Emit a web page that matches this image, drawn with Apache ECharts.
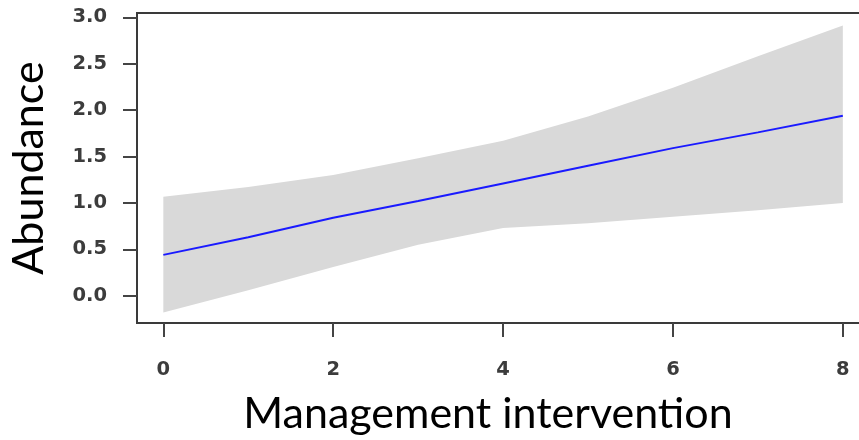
<!DOCTYPE html>
<html>
<head>
<meta charset="utf-8">
<script src="https://cdn.jsdelivr.net/npm/echarts@6/dist/echarts.min.js"></script>
<style>
  html, body { margin: 0; padding: 0; background: #fff; }
  #chart { width: 859px; height: 440px; }
</style>
</head>
<body>
<div id="chart"></div>
<script>
// values, one per unit of management intervention
let xValues = [0, 1, 2, 3, 4, 5, 6, 7, 8]
let fitValues = [0.44, 0.63, 0.84, 1.02, 1.21, 1.40, 1.59, 1.76, 1.94]
let lowerValues = [-0.18, 0.06, 0.31, 0.55, 0.73, 0.78, 0.85, 0.92, 1.00]
let upperValues = [1.065, 1.17, 1.30, 1.48, 1.67, 1.93, 2.24, 2.58, 2.91]
let yTicks = [0, 0.5, 1, 1.5, 2, 2.5, 3]
let xTicks = [0, 2, 4, 6, 8]

let chart = echarts.init(document.getElementById('chart'))

let bandData = xValues.map((x, i) => [x, lowerValues[i], upperValues[i]])
let fitData = xValues.map((x, i) => [x, fitValues[i]])

// the confidence ribbon, drawn once as a polygon through the axis scales
function renderBand(params, api) {
  if (params.dataIndex !== 0) return
  let top = bandData.map(d => api.coord([d[0], d[2]]))
  let bottom = bandData.map(d => api.coord([d[0], d[1]])).reverse()
  return {
    type: 'polygon',
    shape: {points: top.concat(bottom)},
    style: {fill: '#d9d9d9', stroke: null}
  }
}

let tickLabel = {
  fontFamily: 'DejaVu Sans',
  fontWeight: 'bold',
  fontSize: 19.5,
  color: '#3c3c3c'
}

let option = {
  animation: false,
  grid: {
    left: 137,
    top: 13,
    right: -11,
    bottom: 117,
    outerBoundsMode: 'none',
    containLabel: false,
    show: true,
    borderColor: '#3a3a3a',
    borderWidth: 2,
    backgroundColor: 'transparent'
  },
  xAxis: {
    type: 'value',
    min: -0.31,
    max: 8.32,
    name: 'Management intervention',
    nameLocation: 'middle',
    nameGap: 70,
    nameTextStyle: {fontFamily: 'Lato', fontSize: 43, color: '#000', padding: [0, 31, 0, 0]},
    splitLine: {show: false},
    axisLine: {show: false, onZero: false},
    axisTick: {show: true, length: 14, customValues: xTicks, lineStyle: {color: '#444', width: 2}},
    axisLabel: Object.assign({margin: 37, customValues: xTicks}, tickLabel)
  },
  yAxis: {
    type: 'value',
    min: -0.294,
    max: 3.046,
    name: 'Abundance',
    nameLocation: 'middle',
    nameGap: 86,
    nameTextStyle: {fontFamily: 'Lato', fontSize: 43, color: '#000'},
    splitLine: {show: false},
    axisLine: {show: false, onZero: false},
    axisTick: {show: true, length: 14, customValues: yTicks, lineStyle: {color: '#444', width: 2}},
    axisLabel: Object.assign({
      margin: 30,
      customValues: yTicks,
      formatter: v => v.toFixed(1)
    }, tickLabel)
  },
  series: [
    {
      name: 'band',
      type: 'custom',
      data: bandData,
      renderItem: renderBand,
      silent: true,
      z: 1
    },
    {
      name: 'fit',
      type: 'line',
      data: fitData,
      symbol: 'none',
      lineStyle: {color: '#1a1aff', width: 2},
      z: 5
    }
  ]
}

chart.setOption(option)
</script>
</body>
</html>
